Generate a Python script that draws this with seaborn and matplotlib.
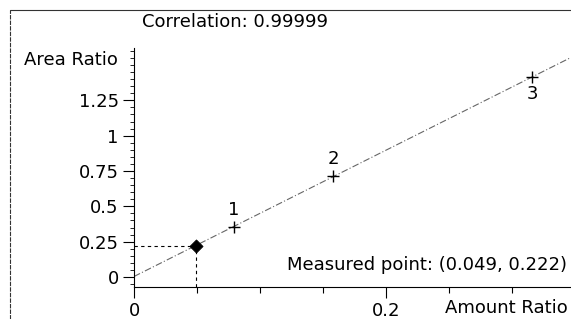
import pandas as pd
import matplotlib.pyplot as plt
import seaborn as sns
from matplotlib.lines import Line2D
from matplotlib.ticker import MultipleLocator, FixedLocator, FuncFormatter

# calibration levels
amount_ratio = [0.079, 0.158, 0.316]
area_ratio = [0.353, 0.714, 1.413]
level_labels = ["1", "2", "3"]
label_offsets = [12, 12, -12]

measured_x = 0.049
measured_y = 0.222
correlation = "0.99999"

x_major = [0, 0.2]
y_major = [0, 0.25, 0.5, 0.75, 1, 1.25]

sns.set_style("ticks")
plt.rcParams["font.family"] = ["DejaVu Sans"]
plt.rcParams["font.size"] = 13
plt.rcParams["text.color"] = "black"
plt.rcParams["xtick.color"] = "black"
plt.rcParams["ytick.color"] = "black"

df = pd.DataFrame({"amount": amount_ratio, "area": area_ratio, "level": level_labels})

fig = plt.figure(figsize=(5.71, 3.19), dpi=100)
ax = fig.add_axes([0.2347, 0.1003, 0.7653, 0.7492])
ax.set_xlim(0, 0.347)
ax.set_ylim(-0.071, 1.62)

# calibration line
sns.regplot(data=df, x="amount", y="area", scatter=False, ci=None, truncate=False, ax=ax,
            line_kws=dict(color="#666666", lw=0.8, ls=(0, (6, 2, 1, 2))))
sns.scatterplot(data=df, x="amount", y="area", marker="+", s=75, color="black",
                linewidth=1.0, ax=ax, zorder=3)
for x, y, lab, off in zip(amount_ratio, area_ratio, level_labels, label_offsets):
    ax.annotate(lab, (x, y), xytext=(0, off), textcoords="offset points",
                ha="center", va="center", fontsize=13, color="black")

# measured point with guide lines
y_bottom = ax.get_ylim()[0]
ax.plot([0, measured_x], [measured_y, measured_y], color="black", lw=0.8, ls=(0, (3, 3)))
ax.plot([measured_x, measured_x], [y_bottom, measured_y], color="black", lw=0.8, ls=(0, (3, 3)))
sns.scatterplot(x=[measured_x], y=[measured_y], marker="D", s=45, color="black",
                edgecolor="black", ax=ax, zorder=4)

ax.set_xlim(0, 0.347)
ax.set_ylim(-0.071, 1.62)
ax.xaxis.set_major_locator(FixedLocator(x_major))
ax.xaxis.set_minor_locator(MultipleLocator(0.05))
ax.yaxis.set_major_locator(FixedLocator(y_major))
ax.yaxis.set_minor_locator(MultipleLocator(0.05))
fmt = FuncFormatter(lambda v, p: f"{v:g}")
ax.xaxis.set_major_formatter(fmt)
ax.yaxis.set_major_formatter(fmt)
ax.tick_params(axis="x", which="major", length=8, width=0.8, pad=3, labelsize=13, colors="black")
ax.tick_params(axis="x", which="minor", length=4, width=0.8)
ax.tick_params(axis="y", which="major", length=8, width=0.8, pad=3, labelsize=13, colors="black")
ax.tick_params(axis="y", which="minor", length=3, width=0.6)
ax.set_xlabel("")
ax.set_ylabel("")
sns.despine(ax=ax)
for s in ["left", "bottom"]:
    ax.spines[s].set_color("black")
    ax.spines[s].set_linewidth(0.8)

fig.text(118 / 571, 1 - 60 / 319, "Area Ratio", ha="right", va="center", fontsize=13)
fig.text(568 / 571, 1 - 308 / 319, "Amount Ratio", ha="right", va="center", fontsize=13)
fig.text(235 / 571, 1 - 22 / 319, f"Correlation: {correlation}", ha="center", va="center", fontsize=13)
fig.text(567 / 571, 1 - 265 / 319, f"Measured point: ({measured_x}, {measured_y})",
         ha="right", va="center", fontsize=13)

# outer frame
fig.add_artist(Line2D([10 / 571, 1], [1 - 10 / 319, 1 - 10 / 319], transform=fig.transFigure,
                      color="#333333", lw=0.8))
fig.add_artist(Line2D([10 / 571, 10 / 571], [0, 1 - 10 / 319], transform=fig.transFigure,
                      color="#333333", lw=0.8, ls=(0, (4, 1))))

fig.savefig("out.png", dpi=100)
